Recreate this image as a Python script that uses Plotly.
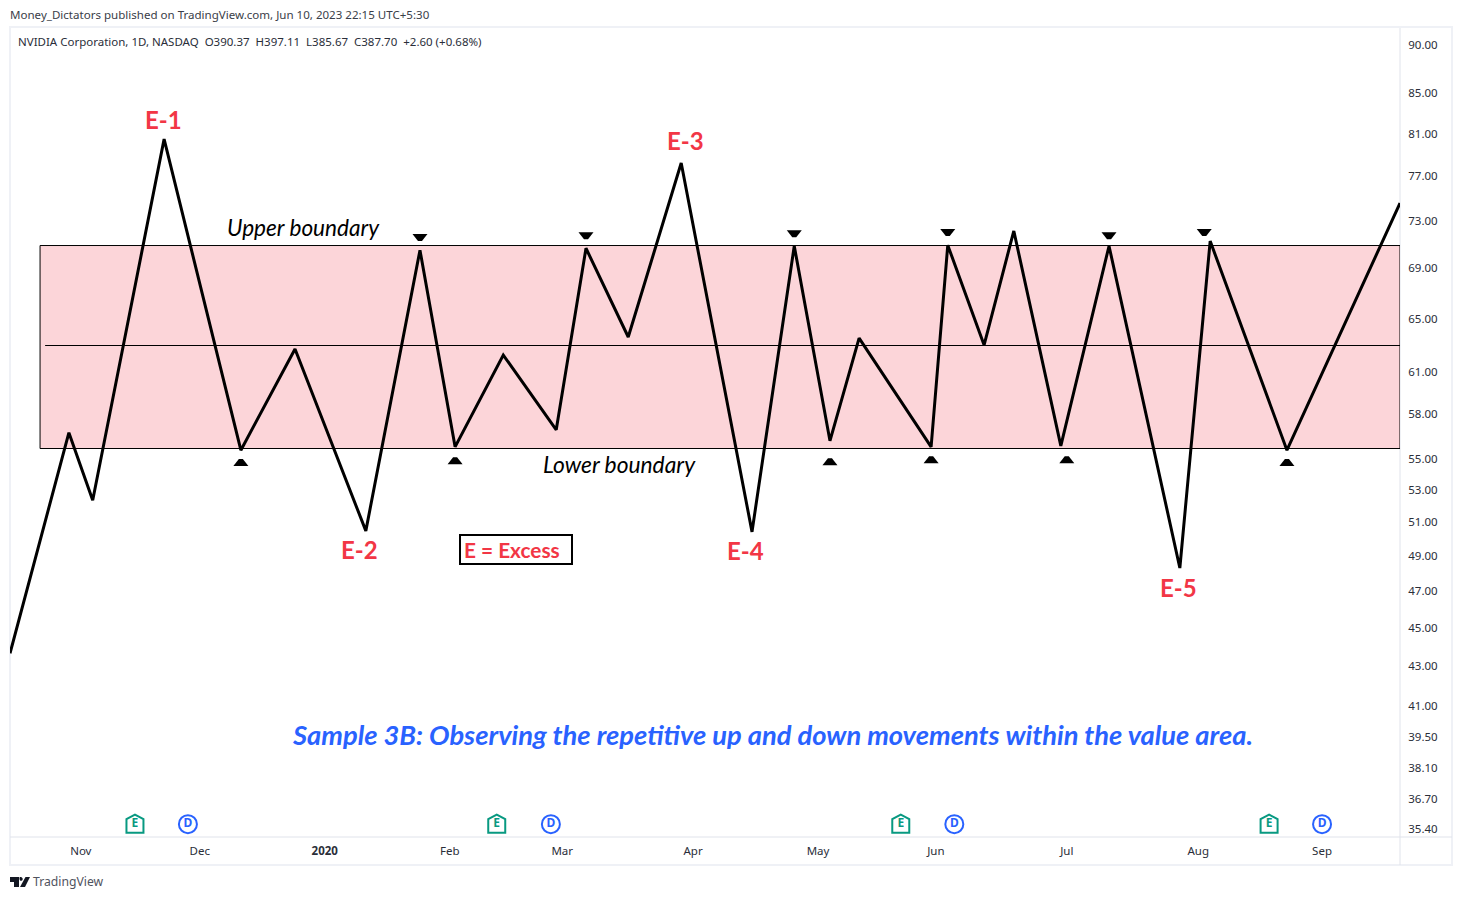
import numpy as np
import plotly.graph_objects as go

W, H = 1462, 900
# ---- data (bar index, price) ----
bars = [0, 9.9, 13.9, 25.9, 38.8, 47.9, 59.8, 68.9, 74.8, 82.9, 91.8, 96.8, 103.9, 112.8, 124.7,
        131.8, 137.8, 142.7, 154.8, 157.6, 163.7, 168.7, 176.6, 184.7, 196.6, 201.7, 214.6, 233.6]
prices = [43.65, 56.75, 52.37, 80.47, 55.58, 62.69, 50.49, 70.51, 55.80, 62.24, 56.94, 70.67, 63.59, 78.21, 50.43,
          70.86, 56.20, 63.51, 55.80, 70.93, 62.98, 72.14, 55.86, 70.86, 48.31, 71.28, 55.58, 74.57]
upper_boundary = 70.9
lower_boundary = 55.69
mid_value = 62.95
box_start = 5.05
mid_start = 5.9
bar_end = 233.6
up_bars = [38.8, 74.8, 137.8, 154.8, 177.6, 214.6]
up_prices = [54.73, 54.85, 54.79, 54.92, 54.92, 54.73]
down_bars = [68.9, 96.8, 131.8, 157.6, 184.7, 200.7]
down_prices = [71.62, 71.78, 71.95, 72.05, 71.78, 72.05]
earn_bars = [21.0, 81.8, 149.7, 211.6]
div_bars = [29.9, 90.9, 158.7, 220.5]
event_price = 35.62
month_bars = [11.9, 31.9, 52.9, 73.9, 92.8, 114.8, 135.8, 155.6, 177.6, 199.7, 220.5]
month_labels = ["Nov", "Dec", "<b>2020</b>", "Feb", "Mar", "Apr", "May", "Jun", "Jul", "Aug", "Sep"]
price_ticks = [90, 85, 81, 77, 73, 69, 65, 61, 58, 55, 53, 51, 49, 47, 45, 43, 41, 39.5, 38.1, 36.7, 35.4]
y_low, y_high = 35.08, 91.84

RED = "#f23645"
BLUE = "#2962ff"
GREEN = "#089981"
FONT = "Lato"
UI = "Noto Sans"


def fx(p):
    return p / W


def fy(p):
    return 1 - p / H


fig = go.Figure()
fig.add_trace(go.Scatter(x=bars, y=prices, mode="lines", line=dict(color="black", width=3), hoverinfo="skip"))
fig.add_trace(go.Scatter(x=earn_bars, y=[event_price] * 4, mode="text", text=["<b>E</b>"] * 4,
                         textposition="middle center",
                         textfont=dict(color=GREEN, size=12, family=UI), hoverinfo="skip"))
fig.add_trace(go.Scatter(x=div_bars, y=[event_price] * 4, mode="markers+text", text=["<b>D</b>"] * 4,
                         textposition="middle center",
                         marker=dict(symbol="circle", size=18, color="white", line=dict(color=BLUE, width=2)),
                         textfont=dict(color=BLUE, size=12, family=UI), hoverinfo="skip"))

shapes = [
    dict(type="rect", xref="x", yref="y", x0=box_start, x1=bar_end, y0=lower_boundary, y1=upper_boundary,
         fillcolor="#fcd5d9", line=dict(color="black", width=1), layer="below"),
    dict(type="line", xref="x", yref="y", x0=mid_start, x1=bar_end, y0=mid_value, y1=mid_value,
         line=dict(color="black", width=1), layer="below"),
    dict(type="rect", xref="paper", yref="paper", x0=fx(10), x1=fx(1452), y0=fy(865), y1=fy(27),
         line=dict(color="#eff1f6", width=2), layer="below"),
    dict(type="line", xref="paper", yref="paper", x0=fx(10), x1=fx(1452), y0=fy(837), y1=fy(837),
         line=dict(color="#e0e3eb", width=1), layer="below"),
    dict(type="line", xref="paper", yref="paper", x0=fx(1400), x1=fx(1400), y0=fy(865), y1=fy(28),
         line=dict(color="#e0e3eb", width=1), layer="below"),
    dict(type="rect", xref="paper", yref="paper", x0=fx(460), x1=fx(572), y0=fy(564), y1=fy(535),
         fillcolor="white", line=dict(color="black", width=2)),
]
for b, p in zip(up_bars, up_prices):
    shapes.append(dict(type="path", xsizemode="pixel", ysizemode="pixel", xref="x", yref="y", xanchor=b, yanchor=p,
                       path="M-7.5,-3 L7.5,-3 L2,4 L-2,4 Z",
                       fillcolor="black", line=dict(width=0)))
for b, p in zip(down_bars, down_prices):
    shapes.append(dict(type="path", xsizemode="pixel", ysizemode="pixel", xref="x", yref="y", xanchor=b, yanchor=p,
                       path="M-7.5,3 L7.5,3 L2,-4 L-2,-4 Z",
                       fillcolor="black", line=dict(width=0)))
for b in earn_bars:
    shapes.append(dict(type="path", xsizemode="pixel", ysizemode="pixel", xref="x", yref="y", xanchor=b,
                       yanchor=event_price, path="M0,9.5 L8.5,5 L8.5,-8.5 L-8.5,-8.5 L-8.5,5 Z",
                       line=dict(color=GREEN, width=2)))
# TradingView mark
shapes += [
    dict(type="path", xsizemode="pixel", ysizemode="pixel", xref="paper", yref="paper", xanchor=fx(10), yanchor=fy(887),
         path=path, fillcolor="#131722", line=dict(width=0))
    for path in ["M0,10 L9,10 L9,0 L4,0 L4,5 L0,5 Z",
                 "M10,10 C12.5,10 13.5,8 12,6.5 C10.5,5.5 9.5,7 9.5,8 C9.5,9 9.5,10 10,10 Z",
                 "M15.5,10 L20,10 L15,0 L10,0 Z"]
]


def note(text, x, y, size, color="black", family=FONT, anchor="center", italic=False, bold=False):
    fig.add_annotation(text=text, xref="paper", yref="paper", x=fx(x), y=fy(y), xanchor=anchor, yanchor="middle",
                       showarrow=False, borderpad=0,
                       font=dict(size=size, color=color, family=family,
                                 style="italic" if italic else "normal", weight=700 if bold else 400))


for label, x, y in [("E-1", 163, 119.5), ("E-2", 359, 549), ("E-3", 685, 140.5), ("E-4", 745.5, 550), ("E-5", 1178, 587)]:
    note(label, x, y, 24, RED, bold=True)
note("E = Excess", 463, 549, 20.8, RED, anchor="left", bold=True)
note("Upper boundary", 303.5, 227, 22.6, italic=True)
note("Lower boundary", 619, 464, 22.8, italic=True)
note("Sample 3B: Observing the repetitive up and down movements within the value area.", 772.5, 734.5, 27.3,
     BLUE, italic=True, bold=True)
note("Money_Dictators published on TradingView.com, Jun 10, 2023 22:15 UTC+5:30", 8.5, 14.5, 11.55, "#3a3e49", UI, "left")
note("NVIDIA Corporation, 1D, NASDAQ\u00a0\u00a0O390.37\u00a0\u00a0H397.11\u00a0\u00a0L385.67\u00a0\u00a0C387.70\u00a0\u00a0+2.60 (+0.68%)",
     16.5, 41.5, 11.5, "#2a2e39", UI, "left")
note("TradingView", 32, 881.5, 12.2, "#50535e", UI, "left")

fig.update_layout(
    width=W, height=H, margin=dict(l=0, r=0, t=0, b=0), showlegend=False,
    paper_bgcolor="white", plot_bgcolor="white", shapes=shapes,
    xaxis=dict(domain=[fx(10), fx(1400)], range=[0, bar_end], showgrid=False, zeroline=False, showline=False,
               tickmode="array", tickvals=month_bars, ticktext=month_labels, ticks="outside", ticklen=3,
               tickcolor="rgba(0,0,0,0)", tickfont=dict(size=11.5, color="#2a2e39", family=UI)),
    yaxis=dict(domain=[fy(837), fy(28)], type="log", side="right", range=[np.log10(y_low), np.log10(y_high)],
               showgrid=False, zeroline=False, showline=False,
               tickmode="array", tickvals=price_ticks, ticktext=[f"{v:.2f}" for v in price_ticks],
               ticks="outside", ticklen=5, tickcolor="rgba(0,0,0,0)",
               tickfont=dict(size=11.5, color="#2a2e39", family=UI)),
)

fig.write_html("out.html", config=dict(displayModeBar=False),
               post_script="document.body.style.margin='0';document.body.style.overflow='hidden';")
